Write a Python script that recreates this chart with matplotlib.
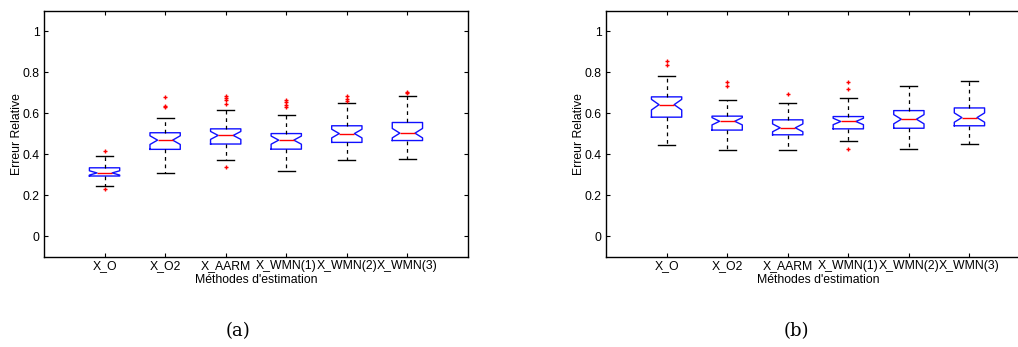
import numpy as np
import matplotlib
matplotlib.use('Agg')
import matplotlib.pyplot as plt

plt.rcParams['font.family'] = ['Liberation Sans', 'DejaVu Sans']

methods = ['X_O', 'X_O2', 'X_AARM', 'X_WMN(1)', 'X_WMN(2)', 'X_WMN(3)']
n_obs = 36  # used for the notch half-height, matlab style

# panel (a)
a_whislo = [0.245, 0.311, 0.373, 0.319, 0.371, 0.376]
a_q1 = [0.295, 0.425, 0.451, 0.426, 0.459, 0.468]
a_med = [0.310, 0.470, 0.493, 0.470, 0.502, 0.504]
a_q3 = [0.335, 0.506, 0.525, 0.502, 0.540, 0.556]
a_whishi = [0.391, 0.579, 0.618, 0.593, 0.653, 0.687]
a_fliers = [[0.417, 0.230], [0.681, 0.635, 0.632],
            [0.686, 0.676, 0.668, 0.645, 0.337],
            [0.666, 0.655, 0.643, 0.632], [0.684, 0.671, 0.663],
            [0.707, 0.700]]

# panel (b)
b_whislo = [0.447, 0.421, 0.421, 0.464, 0.426, 0.452]
b_q1 = [0.582, 0.519, 0.496, 0.525, 0.528, 0.540]
b_med = [0.643, 0.562, 0.530, 0.561, 0.572, 0.580]
b_q3 = [0.681, 0.587, 0.569, 0.585, 0.614, 0.627]
b_whishi = [0.783, 0.666, 0.650, 0.674, 0.734, 0.759]
b_fliers = [[0.854, 0.838], [0.755, 0.736], [0.694],
            [0.752, 0.721, 0.426], [], []]


def make_stats(lo, q1, med, q3, hi, fl):
    stats = []
    for i in range(len(methods)):
        half = 1.57 * (q3[i] - q1[i]) / np.sqrt(n_obs)
        stats.append(dict(label=methods[i], whislo=lo[i], q1=q1[i], med=med[i],
                          q3=q3[i], whishi=hi[i], fliers=fl[i],
                          cilo=med[i] - half, cihi=med[i] + half))
    return stats


def draw(ax, stats):
    ax.bxp(stats, positions=range(1, 7), widths=0.5, shownotches=True,
           capwidths=0.28,
           boxprops=dict(color='#1010ff', linewidth=1.0),
           medianprops=dict(color='red', linewidth=1.0),
           whiskerprops=dict(color='black', linestyle=(0, (3, 3)), linewidth=0.9),
           capprops=dict(color='black', linewidth=1.0),
           flierprops=dict(marker='+', markeredgecolor='red', markersize=3.5,
                           markeredgewidth=1.0))
    ax.set_xlim(0, 7)
    ax.set_ylim(-0.1, 1.1)
    ax.set_yticks([0, 0.2, 0.4, 0.6, 0.8, 1])
    ax.set_yticklabels(['0', '0.2', '0.4', '0.6', '0.8', '1'])
    ax.set_xticks(range(1, 7))
    ax.set_xticklabels(methods, va='baseline')
    ax.tick_params(direction='in', length=3, top=True, right=True,
                   labelsize=8.8, width=0.8)
    ax.tick_params(axis='x', pad=9)
    ax.tick_params(axis='y', pad=3)
    ax.set_ylabel('Erreur Relative', fontsize=8.8, labelpad=0)
    ax.set_xlabel("Méthodes d'estimation", fontsize=8.8, labelpad=1)
    for s in ax.spines.values():
        s.set_linewidth(1.0)


fig = plt.figure(figsize=(10.18, 3.47), dpi=100)
ax1 = fig.add_axes([0.0432, 0.2594, 0.4165, 0.709])
ax2 = fig.add_axes([0.5953, 0.2594, 0.4165, 0.709])

draw(ax1, make_stats(a_whislo, a_q1, a_med, a_q3, a_whishi, a_fliers))
draw(ax2, make_stats(b_whislo, b_q1, b_med, b_q3, b_whishi, b_fliers))

fig.text(238 / 1018, 1 - 331 / 347, '(a)', ha='center', va='center',
         fontsize=13, family='DejaVu Serif')
fig.text(796 / 1018, 1 - 331 / 347, '(b)', ha='center', va='center',
         fontsize=13, family='DejaVu Serif')

fig.savefig('out.png', dpi=100)
